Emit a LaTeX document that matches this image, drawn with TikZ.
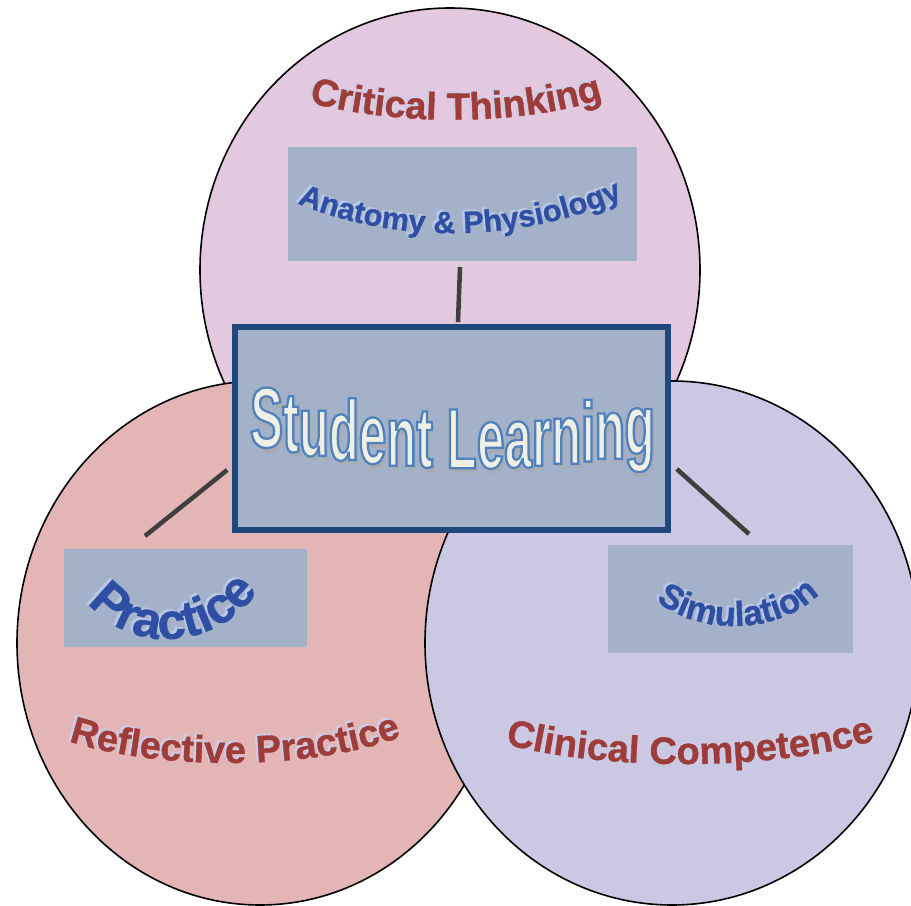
\documentclass[tikz,border=0pt]{standalone}
\usepackage{fontspec}
\setmainfont{Liberation Sans}
\newfontfamily\labelfont{Liberation Sans}[FakeBold=1]
\newfontfamily\titlefont{Liberation Sans Bold}[FakeStretch=0.58]
\usetikzlibrary{calc,decorations.text}

\definecolor{toppink}{HTML}{E3C9E0}
\definecolor{leftrose}{HTML}{E3B6B5}
\definecolor{rightlav}{HTML}{CBC8E3}
\definecolor{boxgray}{HTML}{A4B2C9}
\definecolor{boxedge}{HTML}{1F497D}
\definecolor{linkgray}{HTML}{3F3F3F}
\definecolor{labelred}{HTML}{9E3C3A}
\definecolor{labelblue}{HTML}{2F4FA5}
\definecolor{redshadow}{HTML}{CDCBE6}
\definecolor{blueshadow}{HTML}{B9C6E4}
\definecolor{slfill}{HTML}{EFEFE6}
\definecolor{slshadow}{HTML}{A7ABB2}

\newcommand\redfont{\labelfont\bfseries\fontsize{28.5}{30}\selectfont}
\newcommand\anafont{\labelfont\bfseries\fontsize{23}{25}\selectfont}
\newcommand\pracfont{\labelfont\bfseries\fontsize{38}{40}\selectfont}
\newcommand\simfont{\labelfont\bfseries\fontsize{26}{28}\selectfont}
\newcommand\studfont{\titlefont\fontsize{64}{66}\selectfont}
% cream letters with a blue outline (fill + stroke render mode)
\newcommand\studoutline{\studfont\color{slfill}\special{pdf:literal direct 2 Tr 1.7 w 0.31 0.506 0.741 RG}}

% arched WordArt-like label: text colour, shadow colour, text, path
\newcommand\arclabel[4]{%
  \path[curvetext={#2}{#3}, shift={(-2.5,-2)}] #4;
  \path[curvetext={#1}{#3}] #4;}

\tikzset{every picture/.style={line width=0.75pt}}
\tikzset{
  ring/.style={draw=black, line width=1.2pt},
  sidebox/.style={fill=boxgray, inner sep=0pt, outer sep=0pt},
  mainbox/.style={fill=boxgray, draw=boxedge, line width=4.2pt, inner sep=0pt},
  link/.style={draw=linkgray, line width=3.4pt},
  curvetext/.style 2 args={decorate, decoration={text along path, text align=center, text color=#1, text={#2}}},
  uprighttext/.style={decorate, decoration={text effects along path, text={Student Learning}, text align=center,
    text effects/.cd, characters={font=#1, inner sep=0pt, anchor=base}}},
}

\begin{document}
\begin{tikzpicture}[x=0.75pt,y=0.75pt,yscale=-1,xscale=1]
\useasboundingbox (0,0) rectangle (911,906);

%Shape: Ellipse [Critical Thinking]
\draw[ring, fill=toppink] (450,270) ellipse (250 and 262);
%Shape: Ellipse [Reflective Practice]
\draw[ring, fill=leftrose] (260,643) ellipse (243 and 262);
%Shape: Ellipse [Clinical Competence]
\draw[ring, fill=rightlav] (672,643) ellipse (247 and 262);

%Shape: Rectangle [Anatomy & Physiology]
\node[sidebox, minimum width=261.75pt, minimum height=85.5pt] (ana) at (462.5,204) {};
%Shape: Rectangle [Practice]
\node[sidebox, minimum width=182.25pt, minimum height=73.5pt] (prac) at (185.5,598) {};
%Shape: Rectangle [Simulation]
\node[sidebox, minimum width=183.75pt, minimum height=81pt] (sim) at (730.5,599) {};
%Shape: Rectangle [Student Learning]
\node[mainbox, minimum width=324.75pt, minimum height=152.25pt] (stu) at (451.5,428.5) {};

%Straight Lines
\draw[link] ($(ana.south)+(-2.5,6)$) -- ($(stu.north)+(6.5,-2)$);
\draw[link] ($(prac.north)+(-40.5,-13)$) -- ($(stu.west)+(-5,41.5)$);
\draw[link] ($(stu.east)+(6,40.5)$) -- ($(sim.north)+(18.5,-11)$);

% Text Node
\arclabel{labelred}{redshadow}{|\redfont|Critical Thinking}{(300,100) .. controls (390,126) and (520,128) .. (612,96)}
% Text Node
\arclabel{labelblue}{blueshadow}{|\anafont|Anatomy {\&} Physiology}{(290,200) .. controls (390,245) and (520,245) .. (630,195)}
% Text Node
\arclabel{labelblue}{blueshadow}{|\pracfont|Practice}{(84,596) .. controls (115,650) and (215,660) .. (262,585)}
% Text Node
\arclabel{labelblue}{blueshadow}{|\simfont|Simulation}{(650,595) .. controls (690,635) and (780,640) .. (825,588)}
% Text Node
\arclabel{labelred}{redshadow}{|\redfont|Reflective Practice}{(60,738) .. controls (150,772) and (320,772) .. (410,733)}
% Text Node
\arclabel{labelred}{redshadow}{|\redfont|Clinical Competence}{(498,742) .. controls (600,772) and (780,772) .. (882,738)}

% Text Node [title, upright letters on a sagging line]
\path[uprighttext={\studfont\color{slshadow}}, shift={(3,5)}] (243,442) .. controls (382,474) and (522,477) .. (662,450);
\path[uprighttext=\studoutline] (243,442) .. controls (382,474) and (522,477) .. (662,450);

\end{tikzpicture}
\end{document}
